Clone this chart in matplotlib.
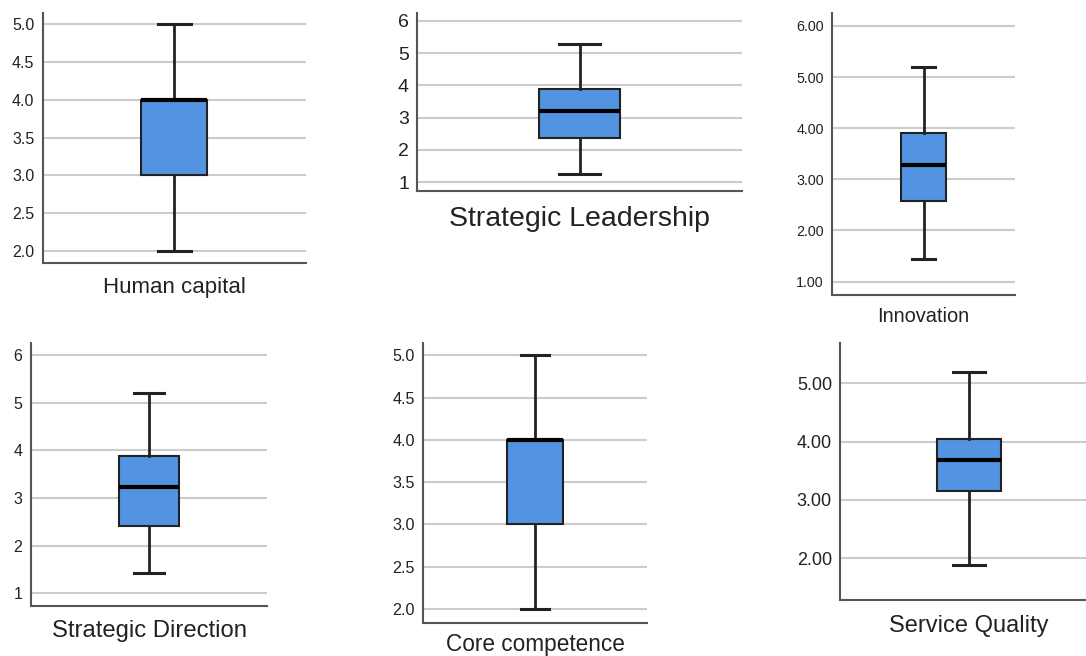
import matplotlib.pyplot as plt

# five-number summaries
names = ["Human capital", "Strategic Leadership", "Innovation",
         "Strategic Direction", "Core competence", "Service Quality"]
mins = [2.0, 1.26, 1.44, 1.43, 2.0, 1.88]
q1s = [3.0, 2.38, 2.58, 2.42, 3.0, 3.15]
medians = [4.0, 3.22, 3.27, 3.22, 4.0, 3.68]
q3s = [4.0, 3.89, 3.90, 3.89, 4.0, 4.05]
maxs = [5.0, 5.27, 5.20, 5.21, 5.0, 5.20]

ticks = [[2.0, 2.5, 3.0, 3.5, 4.0, 4.5, 5.0],
         [1, 2, 3, 4, 5, 6],
         [1, 2, 3, 4, 5, 6],
         [1, 2, 3, 4, 5, 6],
         [2.0, 2.5, 3.0, 3.5, 4.0, 4.5, 5.0],
         [2, 3, 4, 5]]
tick_fmt = ["{:.1f}", "{:.0f}", "{:.2f}", "{:.0f}", "{:.1f}", "{:.2f}"]
ylims = [(1.837, 5.15), (0.73, 6.25), (0.73, 6.26),
         (0.73, 6.26), (1.83, 5.15), (1.28, 5.70)]

# panel boxes in pixels: left, top, right, bottom
rects = [(42.7, 13, 306, 263), (417.3, 12.7, 741.7, 191),
         (832.3, 12.7, 1015, 295.3), (30.7, 342.7, 267.3, 606),
         (423.3, 342.7, 647.3, 623.3), (840.3, 342.7, 1097, 600)]
label_size = [16, 20.5, 14.4, 17.2, 16.3, 17]
label_off = [24, 28, 21, 25, 21, 26]
tick_size = [11.5, 14, 10.3, 11.5, 11.6, 13]

W, H = 1086, 656
plt.rcParams['font.family'] = ['Liberation Sans', 'DejaVu Sans']
fig = plt.figure(figsize=(W / 100, H / 100), dpi=100)

box_color = '#5294e2'

for i, name in enumerate(names):
    l, t, r, b = rects[i]
    ax = fig.add_axes([l / W, 1 - b / H, (r - l) / W, (b - t) / H])
    stats = [{'whislo': mins[i], 'q1': q1s[i], 'med': medians[i],
              'q3': q3s[i], 'whishi': maxs[i], 'fliers': []}]
    ax.bxp(stats, positions=[1], widths=0.25, patch_artist=True,
           showfliers=False,
           boxprops=dict(facecolor=box_color, edgecolor='#222222', linewidth=1.5),
           medianprops=dict(color='black', linewidth=3),
           whiskerprops=dict(color='#222222', linewidth=2),
           capprops=dict(color='#222222', linewidth=2.2),
           capwidths=0.125, zorder=3)
    ax.set_xlim(0.5, 1.5)
    ax.set_ylim(*ylims[i])
    ax.set_yticks(ticks[i])
    ax.set_yticklabels([tick_fmt[i].format(v) for v in ticks[i]],
                       fontsize=tick_size[i], color='#222222')
    ax.tick_params(axis='y', length=0, pad=6)
    ax.set_xticks([])
    ax.grid(axis='y', color='#cccccc', linewidth=1.5, zorder=0)
    ax.set_axisbelow(True)
    for s in ['top', 'right']:
        ax.spines[s].set_visible(False)
    for s in ['left', 'bottom']:
        ax.spines[s].set_color('#555555')
        ax.spines[s].set_linewidth(1.5)
    ax.annotate(name, xy=(0.5, 0), xycoords='axes fraction',
                xytext=(0, -label_off[i] * 0.72), textcoords='offset points',
                ha='center', va='center', fontsize=label_size[i], color='#222222')

fig.savefig('out.png', dpi=100)
